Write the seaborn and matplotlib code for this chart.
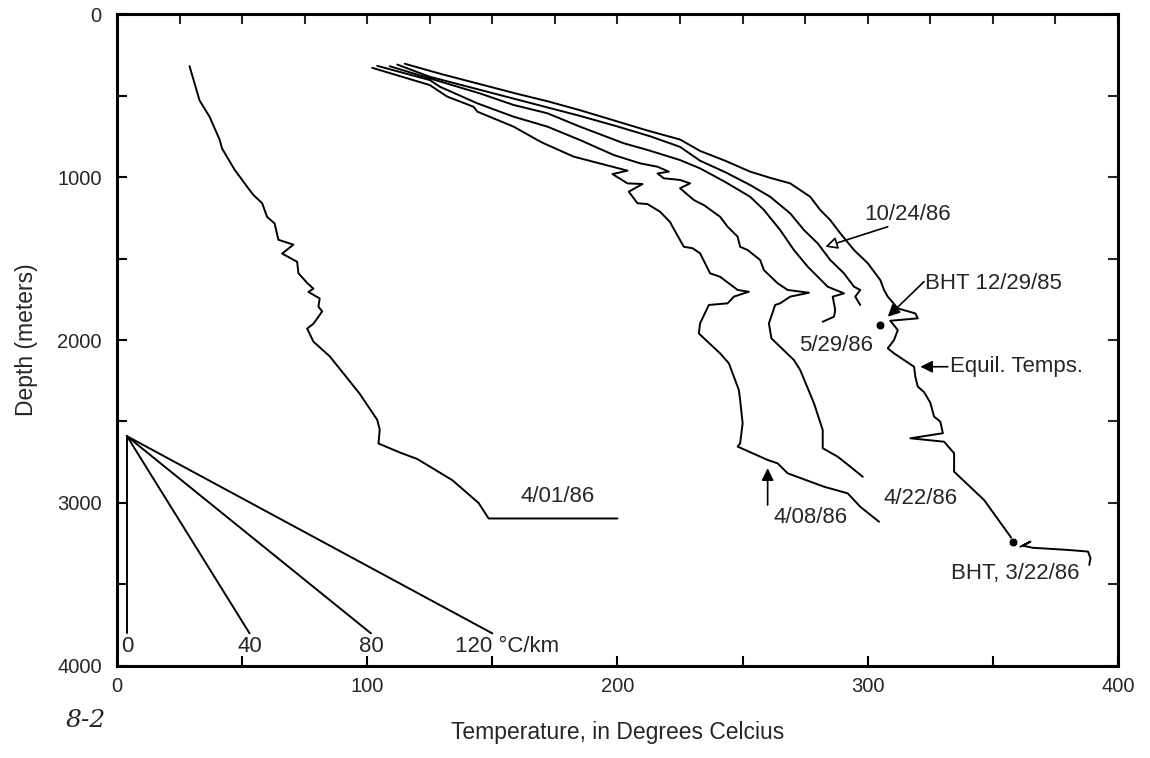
import matplotlib
matplotlib.use('Agg')
import matplotlib.pyplot as plt
import pandas as pd
import seaborn as sns

# Temperature logs: temperature (deg C) vs depth (m)
t_0401 = [29, 33, 37, 41, 42, 47, 53, 54.5, 58, 60, 63, 64.5, 70.5, 66, 72, 72.5, 76, 78.5, 76.5,
          81, 80.5, 82, 78.5, 76, 78.5, 85, 90.5, 97, 104, 105, 104.5, 113, 120, 134, 144.5, 148.5, 200]
d_0401 = [320, 530, 630, 770, 825, 955, 1080, 1110, 1160, 1245, 1285, 1385, 1415, 1470, 1520, 1590,
          1650, 1685, 1705, 1745, 1795, 1825, 1900, 1930, 2010, 2100, 2205, 2330, 2490, 2550, 2635,
          2690, 2730, 2860, 3000, 3095, 3095]

t_0408 = [102, 125, 132, 142.5, 144, 158.5, 168, 170.5, 182.5, 197, 204, 198, 204, 210, 204.5, 208,
          212, 217, 221, 222, 226.5, 230, 233, 237, 241, 248, 252.5, 246.5, 244, 236.5, 233, 232.5,
          241, 244.5, 248.5, 249, 250, 249, 248, 260, 264, 268, 282.5, 292, 297, 304.5]
d_0408 = [330, 436, 507, 569, 599, 691, 773, 793, 875, 933, 961, 982, 1039, 1043, 1090, 1161, 1166,
          1213, 1276, 1305, 1428, 1437, 1468, 1591, 1612, 1693, 1704, 1734, 1775, 1785, 1898, 1960,
          2082, 2143, 2307, 2368, 2511, 2634, 2654, 2736, 2757, 2818, 2900, 2941, 3023, 3115]

t_0422 = [104, 125, 129, 144, 158.5, 172, 185, 198.5, 209, 216, 220.5, 216, 218.5, 225, 229, 225,
          230.5, 233, 234.5, 241, 244, 248, 249, 252, 257, 258.5, 264, 268, 276.5, 269, 265, 263,
          260.5, 261.5, 270.5, 273, 278.5, 282, 282, 288, 293, 298]
d_0422 = [318, 405, 446, 548, 630, 691, 773, 865, 916, 937, 967, 978, 1008, 1018, 1039, 1069, 1141,
          1161, 1172, 1244, 1305, 1366, 1428, 1448, 1509, 1571, 1652, 1693, 1710, 1734, 1775, 1785,
          1898, 1990, 2123, 2184, 2388, 2552, 2664, 2716, 2777, 2839]

t_0529 = [109, 125, 145, 158.5, 172, 185, 202.5, 212, 225, 233, 243, 253, 258.5, 265, 270.5, 276,
          284, 290.5, 286, 287, 286.5, 282]
d_0529 = [320, 395, 487, 558, 609, 691, 793, 834, 896, 947, 1030, 1121, 1202, 1325, 1448, 1550,
          1673, 1714, 1734, 1816, 1857, 1888]

t_1024 = [112, 125, 140, 155, 170, 185, 200, 213, 225, 233, 243, 253, 261, 269, 274.5, 280, 285,
          290.5, 294.5, 297, 295, 297]
d_1024 = [310, 385, 445, 505, 565, 625, 690, 750, 815, 900, 970, 1049, 1121, 1223, 1325, 1407,
          1509, 1591, 1673, 1693, 1734, 1785]

t_equil = [115, 130, 145, 160, 172, 185, 198, 212, 225, 233, 243, 253, 261, 269, 277, 281, 285, 289,
           294.5, 300, 305, 306.5, 308, 312, 319, 320, 309, 312, 310.5, 308, 310.5, 318.5, 319, 320,
           322.5, 325, 326.5, 329, 330, 317, 330.5, 334.5, 334.5, 346.5, 357, 358]
d_equil = [305, 370, 430, 490, 535, 590, 650, 715, 770, 840, 900, 967, 1005, 1039, 1121, 1202, 1264,
           1345, 1448, 1529, 1632, 1693, 1734, 1806, 1837, 1867, 1882, 1939, 2000, 2051, 2082, 2164,
           2225, 2286, 2320, 2385, 2470, 2501, 2572, 2603, 2624, 2695, 2808, 2982, 3206, 3237]

t_tail = [361, 365, 362, 366, 370.5, 380, 388, 389, 388.5]
d_tail = [3268, 3237, 3262, 3275, 3279, 3288, 3298, 3339, 3380]

# Reference gradient fan (deg C per km)
grad_labels = ['0', '40', '80', '120 °C/km']
grad_origin_t = 4
grad_origin_d = 2590
grad_end_t = [4, 53, 101.5, 150]
grad_end_d = 3800

# Bottom-hole temperatures
bht_t = [305, 358]
bht_d = [1908, 3237]

sns.set_style('ticks')
plt.rcParams['font.family'] = ['Liberation Sans', 'DejaVu Sans']

logs = [('4/01/86', t_0401, d_0401), ('4/08/86', t_0408, d_0408), ('4/22/86', t_0422, d_0422),
        ('5/29/86', t_0529, d_0529), ('10/24/86', t_1024, d_1024), ('equil', t_equil, d_equil),
        ('tail', t_tail, d_tail)]
for lab, te in zip(grad_labels, grad_end_t):
    logs.append(('grad ' + lab, [grad_origin_t, te], [grad_origin_d, grad_end_d]))

df = pd.concat([pd.DataFrame({'survey': n, 'temp': t, 'depth': d}) for n, t, d in logs],
               ignore_index=True)

fig = plt.figure(figsize=(11.5, 7.58), dpi=100)
ax = fig.add_axes([0.1017, 0.1214, 0.8705, 0.8601])

sns.lineplot(data=df, x='temp', y='depth', units='survey', estimator=None, sort=False,
             color='black', linewidth=1.4, ax=ax)
sns.scatterplot(x=bht_t, y=bht_d, color='black', s=40, ax=ax, zorder=5)

ax.set_xlim(0, 400)
ax.set_ylim(4000, 0)
ax.set_xticks([0, 100, 200, 300, 400])
ax.set_xticks(range(0, 401, 50), minor=True)
ax.set_yticks([0, 1000, 2000, 3000, 4000])
ax.set_yticks(range(0, 4001, 500), minor=True)
ax.tick_params(which='both', direction='in', width=1.5, labelsize=14.5, color='black')
ax.tick_params(which='major', length=7)
ax.tick_params(which='minor', length=7)
ax.tick_params(axis='x', pad=8)
ax.tick_params(axis='y', pad=11)
for s in ax.spines.values():
    s.set_visible(True)
    s.set_linewidth(2.2)
    s.set_color('black')

top = ax.secondary_xaxis('top')
top.set_xticks(range(0, 401, 25))
top.tick_params(direction='in', length=7, width=1.5, labeltop=False)
right = ax.secondary_yaxis('right')
right.set_yticks(range(0, 4001, 500))
right.tick_params(direction='in', length=7, width=1.5, labelright=False)

ax.set_xlabel('Temperature, in Degrees Celcius', fontsize=16.5, labelpad=18)
ax.set_ylabel('Depth (meters)', fontsize=16.5, labelpad=14)

fs = 16
ax.text(316, 1233, '10/24/86', fontsize=fs, ha='center', va='center')
ax.text(323, 1652, 'BHT 12/29/85', fontsize=fs, ha='left', va='center')
ax.text(287.5, 2031, '5/29/86', fontsize=fs, ha='center', va='center')
ax.text(333, 2164, 'Equil. Temps.', fontsize=fs, ha='left', va='center')
ax.text(321, 2970, '4/22/86', fontsize=fs, ha='center', va='center')
ax.text(277, 3092, '4/08/86', fontsize=fs, ha='center', va='center')
ax.text(176, 2960, '4/01/86', fontsize=fs, ha='center', va='center')
ax.text(359, 3431, 'BHT, 3/22/86', fontsize=fs, ha='center', va='center')
for lab, te in zip(grad_labels, grad_end_t):
    if lab.startswith('120'):
        ax.text(135, 3880, lab, fontsize=fs, ha='left', va='center')
    else:
        ax.text(te, 3880, lab, fontsize=fs, ha='center', va='center')

arrow = dict(arrowstyle='-|>', color='black', lw=1.2, mutation_scale=18, shrinkA=0, shrinkB=0)
ax.annotate('', xy=(283, 1428), xytext=(308, 1305),
            arrowprops=dict(arrowstyle='-|>', fc='white', ec='black', lw=1.2, mutation_scale=18,
                            shrinkA=0, shrinkB=0))
ax.annotate('', xy=(308, 1857), xytext=(322.5, 1642), arrowprops=arrow)
ax.annotate('', xy=(321, 2164), xytext=(332, 2164), arrowprops=arrow)
ax.annotate('', xy=(260, 2787), xytext=(260, 3012), arrowprops=arrow)

fig.text(0.092, 0.05, '8-2', fontsize=18, style='italic', family='DejaVu Serif',
         ha='right', va='center')

fig.savefig('out.png', dpi=100)
